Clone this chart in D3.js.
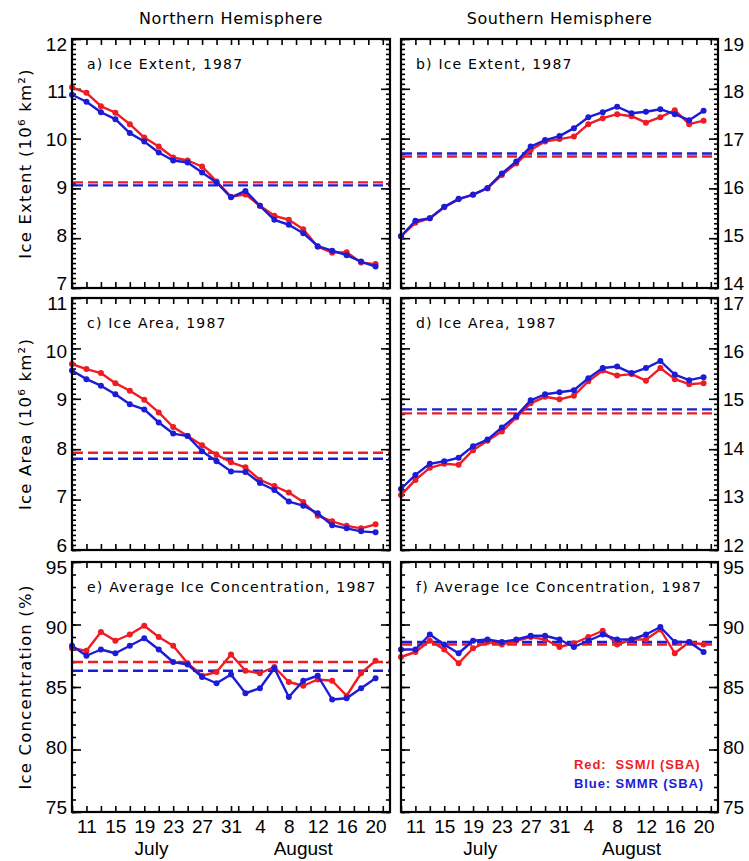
<!DOCTYPE html>
<html>
<head>
<meta charset="utf-8">
<script src="https://cdn.jsdelivr.net/npm/d3@7"></script>
<style>
  body { margin: 0; background: #fff; }
</style>
</head>
<body>
<script>
// sample dates (every 2 days), 1987
const dates = [
  "1987-07-09", "1987-07-11", "1987-07-13", "1987-07-15", "1987-07-17", "1987-07-19",
  "1987-07-21", "1987-07-23", "1987-07-25", "1987-07-27", "1987-07-29", "1987-07-31",
  "1987-08-02", "1987-08-04", "1987-08-06", "1987-08-08", "1987-08-10", "1987-08-12",
  "1987-08-14", "1987-08-16", "1987-08-18", "1987-08-20"
]
const xDomain = ["1987-07-09", "1987-08-22"]
const dateTickDates = ["1987-07-11", "1987-07-15", "1987-07-19", "1987-07-23", "1987-07-27", "1987-07-31",
  "1987-08-04", "1987-08-08", "1987-08-12", "1987-08-16", "1987-08-20"]
const dateTickLabels = ["11", "15", "19", "23", "27", "31", "4", "8", "12", "16", "20"]
const monthDates = ["1987-07-20", "1987-08-10"]
const monthLabels = ["July", "August"]

// red = SSM/I (SBA), blue = SMMR (SBA)
const nhExtentSSMI = [11.03, 10.92, 10.65, 10.52, 10.29, 10.02, 9.84, 9.62, 9.56, 9.44, 9.14, 8.83, 8.88, 8.65, 8.45, 8.37, 8.18, 7.83, 7.71, 7.72, 7.51, 7.48]
const nhExtentSMMR = [10.88, 10.74, 10.53, 10.39, 10.11, 9.94, 9.72, 9.56, 9.52, 9.32, 9.12, 8.82, 8.95, 8.65, 8.37, 8.27, 8.10, 7.84, 7.75, 7.66, 7.53, 7.43]
const shExtentSSMI = [15.04, 15.31, 15.40, 15.62, 15.78, 15.88, 16.00, 16.27, 16.50, 16.77, 16.94, 16.99, 17.04, 17.29, 17.41, 17.49, 17.45, 17.32, 17.43, 17.57, 17.29, 17.36]
const shExtentSMMR = [15.04, 15.35, 15.40, 15.63, 15.79, 15.87, 16.01, 16.30, 16.54, 16.84, 16.97, 17.05, 17.21, 17.43, 17.53, 17.64, 17.51, 17.54, 17.59, 17.49, 17.37, 17.56]
const nhAreaSSMI = [9.69, 9.59, 9.51, 9.31, 9.16, 8.98, 8.73, 8.44, 8.26, 8.08, 7.89, 7.74, 7.64, 7.39, 7.27, 7.14, 6.95, 6.68, 6.57, 6.48, 6.43, 6.51]
const nhAreaSMMR = [9.56, 9.39, 9.26, 9.09, 8.89, 8.79, 8.53, 8.31, 8.26, 7.96, 7.76, 7.56, 7.55, 7.33, 7.19, 6.96, 6.88, 6.73, 6.49, 6.43, 6.37, 6.35]
const shAreaSSMI = [13.09, 13.39, 13.63, 13.71, 13.69, 13.98, 14.17, 14.35, 14.63, 14.91, 15.04, 14.99, 15.06, 15.35, 15.56, 15.46, 15.49, 15.36, 15.61, 15.39, 15.29, 15.31]
const shAreaSMMR = [13.21, 13.49, 13.71, 13.76, 13.83, 14.06, 14.19, 14.43, 14.66, 14.97, 15.09, 15.13, 15.17, 15.41, 15.61, 15.64, 15.51, 15.61, 15.75, 15.48, 15.37, 15.43]
const nhConcSSMI = [88.1, 87.9, 89.4, 88.7, 89.2, 89.9, 89.0, 88.3, 86.9, 85.9, 86.2, 87.6, 86.3, 86.1, 86.6, 85.4, 85.1, 85.6, 85.5, 84.3, 86.1, 87.1]
const nhConcSMMR = [88.3, 87.5, 88.0, 87.7, 88.3, 88.9, 88.0, 87.0, 86.8, 85.8, 85.3, 86.0, 84.5, 84.9, 86.5, 84.2, 85.5, 85.9, 84.0, 84.1, 84.9, 85.7]
const shConcSSMI = [87.4, 87.8, 88.7, 88.0, 86.9, 88.1, 88.6, 88.4, 88.7, 89.0, 88.8, 88.2, 88.5, 89.0, 89.5, 88.4, 88.8, 88.8, 89.6, 87.7, 88.6, 88.4]
const shConcSMMR = [88.0, 88.0, 89.2, 88.4, 87.7, 88.7, 88.8, 88.6, 88.8, 89.1, 89.1, 88.8, 88.2, 88.7, 89.2, 88.8, 88.8, 89.2, 89.8, 88.6, 88.6, 87.8]

// period means [SSM/I, SMMR] (dashed lines)
const nhExtentMean = [9.12, 9.06]
const shExtentMean = [16.64, 16.70]
const nhAreaMean = [7.93, 7.81]
const shAreaMean = [14.71, 14.79]
const nhConcMean = [87.0, 86.3]
const shConcMean = [88.4, 88.6]

const red = "#ee1c24"
const blue = "#1c1cd6"
const parse = d3.utcParse("%Y-%m-%d")

const width = 749
const height = 861
const cols = [[72, 390], [401, 718]]
const rows = [[39, 288], [298, 550], [562, 812]]
const baseFont = "Liberation Sans, Arial, sans-serif"
const wideFont = "DejaVu Sans, Verdana, sans-serif"

const panels = [
  { col: 0, row: 0, title: "a) Ice Extent, 1987", domain: [7, 12], major: 1, minor: 0.1, ssmi: nhExtentSSMI, smmr: nhExtentSMMR, mean: nhExtentMean },
  { col: 1, row: 0, title: "b) Ice Extent, 1987", domain: [14, 19], major: 1, minor: 0.1, ssmi: shExtentSSMI, smmr: shExtentSMMR, mean: shExtentMean },
  { col: 0, row: 1, title: "c) Ice Area, 1987", domain: [6, 11], major: 1, minor: 0.1, ssmi: nhAreaSSMI, smmr: nhAreaSMMR, mean: nhAreaMean },
  { col: 1, row: 1, title: "d) Ice Area, 1987", domain: [12, 17], major: 1, minor: 0.1, ssmi: shAreaSSMI, smmr: shAreaSMMR, mean: shAreaMean },
  { col: 0, row: 2, title: "e) Average Ice Concentration, 1987", domain: [75, 95], major: 5, minor: 1, ssmi: nhConcSSMI, smmr: nhConcSMMR, mean: nhConcMean },
  { col: 1, row: 2, title: "f) Average Ice Concentration, 1987", domain: [75, 95], major: 5, minor: 1, ssmi: shConcSSMI, smmr: shConcSMMR, mean: shConcMean },
]

const yTitles = ["Ice Extent (10\u2076 km\u00b2)", "Ice Area (10\u2076 km\u00b2)", "Ice Concentration (%)"]
const colTitles = ["Northern Hemisphere", "Southern Hemisphere"]
const legendLabels = ["Red:\u00a0 SSM/I (SBA)", "Blue: SMMR (SBA)"]

const svg = d3.select("body").append("svg")
  .attr("width", width)
  .attr("height", height)
  .attr("font-family", baseFont)

const stepRange = (lo, hi, step) => d3.range(Math.round((hi - lo) / step) + 1).map(i => +(lo + i * step).toFixed(4))

const cleanAxis = g => g
  .call(g => g.select(".domain").remove())
  .call(g => g.selectAll(".tick line").attr("stroke", "#000").attr("stroke-width", 1.6))

panels.forEach(p => {
  const [x0, x1] = cols[p.col]
  const [y0, y1] = rows[p.row]

  const x = d3.scaleUtc().domain(xDomain.map(parse)).range([x0, x1])
  const y = d3.scaleLinear().domain(p.domain).range([y1, y0])

  const g = svg.append("g")

  const majorVals = stepRange(p.domain[0], p.domain[1], p.major)
  const minorVals = stepRange(p.domain[0], p.domain[1], p.minor)
  const xTickVals = d3.utcDay.every(2).range(x.domain()[0], d3.utcDay.offset(x.domain()[1], 1))

  // inward ticks on all four sides
  g.append("g").attr("transform", `translate(${x0},0)`)
    .call(d3.axisRight(y).tickValues(minorVals).tickSize(4).tickFormat("")).call(cleanAxis)
  g.append("g").attr("transform", `translate(${x0},0)`)
    .call(d3.axisRight(y).tickValues(majorVals).tickSize(9).tickFormat("")).call(cleanAxis)
  g.append("g").attr("transform", `translate(${x1},0)`)
    .call(d3.axisLeft(y).tickValues(minorVals).tickSize(4).tickFormat("")).call(cleanAxis)
  g.append("g").attr("transform", `translate(${x1},0)`)
    .call(d3.axisLeft(y).tickValues(majorVals).tickSize(9).tickFormat("")).call(cleanAxis)
  g.append("g").attr("transform", `translate(0,${y1})`)
    .call(d3.axisTop(x).tickValues(xTickVals).tickSize(6).tickFormat("")).call(cleanAxis)
  g.append("g").attr("transform", `translate(0,${y0})`)
    .call(d3.axisBottom(x).tickValues(xTickVals).tickSize(6).tickFormat("")).call(cleanAxis)

  // y tick labels: left column on the left, right column on the right
  // end labels nudged inside the panel height so stacked panels don't collide
  const yLab = p.col === 0
    ? d3.axisLeft(y).tickValues(majorVals).tickSize(0).tickPadding(5).tickFormat(d3.format("d"))
    : d3.axisRight(y).tickValues(majorVals).tickSize(0).tickPadding(5).tickFormat(d3.format("d"))
  g.append("g").attr("transform", `translate(${p.col === 0 ? x0 : x1},0)`)
    .call(yLab)
    .call(g => g.select(".domain").remove())
    .call(g => g.selectAll("text")
      .attr("font-family", baseFont)
      .attr("font-size", 19)
      .attr("fill", "#000")
      .attr("y", d => 5 - 10 * (y(d) - y0) / (y1 - y0)))

  // date labels under bottom row
  if (p.row === 2) {
    g.append("g").attr("transform", `translate(0,${y1})`)
      .call(d3.axisBottom(x).tickValues(dateTickDates.map(parse)).tickSize(0).tickPadding(8)
        .tickFormat((d, i) => dateTickLabels[i]))
      .call(g => g.select(".domain").remove())
      .call(g => g.selectAll("text")
        .attr("font-family", baseFont)
        .attr("font-size", 19)
        .attr("fill", "#000"))

    g.append("g")
      .selectAll("text")
      .data(monthLabels)
      .join("text")
      .attr("x", (d, i) => x(parse(monthDates[i])))
      .attr("y", 855)
      .attr("text-anchor", "middle")
      .attr("font-size", 19)
      .text(d => d)
  }

  // period means
  g.append("g")
    .selectAll("line")
    .data(p.mean)
    .join("line")
    .attr("x1", x0 + 1)
    .attr("x2", x1 - 1)
    .attr("y1", d => y(d))
    .attr("y2", d => y(d))
    .attr("stroke", (d, i) => i === 0 ? red : blue)
    .attr("stroke-width", 2.4)
    .attr("stroke-dasharray", "10,5")

  // series
  const series = [
    { values: p.ssmi, colour: red },
    { values: p.smmr, colour: blue },
  ]
  const line = d3.line()
    .x((d, i) => x(parse(dates[i])))
    .y(d => y(d))

  series.forEach(s => {
    g.append("path")
      .datum(s.values)
      .attr("fill", "none")
      .attr("stroke", s.colour)
      .attr("stroke-width", 2.4)
      .attr("stroke-linejoin", "round")
      .attr("d", line)

    g.append("g")
      .selectAll("circle")
      .data(s.values)
      .join("circle")
      .attr("cx", (d, i) => x(parse(dates[i])))
      .attr("cy", d => y(d))
      .attr("r", 3)
      .attr("fill", s.colour)
  })

  // frame
  g.append("rect")
    .attr("x", x0)
    .attr("y", y0)
    .attr("width", x1 - x0)
    .attr("height", y1 - y0)
    .attr("fill", "none")
    .attr("stroke", "#000")
    .attr("stroke-width", 2.2)

  // panel title
  g.append("text")
    .attr("x", x0 + 15)
    .attr("y", y0 + 30)
    .attr("font-family", wideFont)
    .attr("font-size", 14)
    .attr("letter-spacing", 1.2)
    .text(p.title)
})

// column titles
svg.append("g")
  .selectAll("text")
  .data(colTitles)
  .join("text")
  .attr("x", (d, i) => (cols[i][0] + cols[i][1]) / 2)
  .attr("y", 24)
  .attr("text-anchor", "middle")
  .attr("font-family", wideFont)
  .attr("font-size", 16)
  .attr("letter-spacing", 0.6)
  .text(d => d)

// y axis titles (left side)
svg.append("g")
  .selectAll("text")
  .data(yTitles)
  .join("text")
  .attr("transform", (d, i) => `translate(31,${(rows[i][0] + rows[i][1]) / 2}) rotate(-90)`)
  .attr("text-anchor", "middle")
  .attr("font-family", wideFont)
  .attr("font-size", 16.5)
  .attr("letter-spacing", 1.2)
  .text(d => d)

// legend in panel f
svg.append("g")
  .attr("font-family", baseFont)
  .attr("font-size", 13)
  .attr("font-weight", "bold")
  .attr("letter-spacing", 0.9)
  .selectAll("text")
  .data(legendLabels)
  .join("text")
  .attr("x", 574)
  .attr("y", (d, i) => 769 + i * 19)
  .attr("fill", (d, i) => i === 0 ? red : blue)
  .text(d => d)
</script>
</body>
</html>
